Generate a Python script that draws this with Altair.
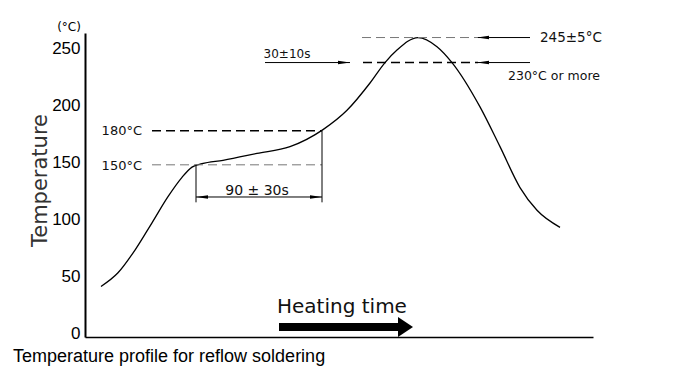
import altair as alt
import pandas as pd

# ---- data (time in arbitrary units, temperature in °C) ----
time = [16, 33, 50, 67, 83, 97, 107, 117, 138, 172, 205, 238, 262, 285, 300, 312, 333, 352, 367, 395, 415, 435, 452, 475]
temp = [41, 53, 73, 97, 120, 137, 146, 149, 152, 158, 164, 179, 196, 220, 238, 249, 260, 252, 238, 199, 164, 128, 108, 93]
y_ticks = [0, 50, 100, 150, 200, 250]

# reference lines: gray thin dashed, black dashed, solid
gray_dash = pd.DataFrame({"x": [67, 277], "x2": [237, 393], "y": [148, 260]})
black_dash = pd.DataFrame({"x": [67, 278], "x2": [237, 393], "y": [178, 238]})
solid_h = pd.DataFrame({"x": [111, 393, 393, 180], "x2": [237, 445, 445, 265], "y": [119.7, 260, 238, 238]})
solid_v = pd.DataFrame({"x": [111, 237], "y": [148, 178], "y2": [115, 115]})
heads_left = pd.DataFrame({"x": [117, 398, 398], "y": [119.7, 260, 238]})
heads_right = pd.DataFrame({"x": [231, 259], "y": [119.7, 238]})

labels = pd.DataFrame({
    "x": [57, 57, 172, 202, 455, 423],
    "y": [178, 147, 125, 245.6, 260, 226],
    "text": ["180°C", "150°C", "90 ± 30s", "30±10s", "245±5°C", "230°C or more"],
    "align": ["right", "right", "center", "center", "left", "left"],
    "size": [13, 13, 14, 12, 13.5, 12.5],
})

TECH = "DejaVu Sans, sans-serif"
ARIAL = "Liberation Sans, Arial, sans-serif"

xs = alt.Scale(domain=[0, 508])
ys = alt.Scale(domain=[-3.5, 264])

curve_df = pd.DataFrame({"t": time, "T": temp})
curve = alt.Chart(curve_df).mark_line(color="black", strokeWidth=1.3, interpolate="monotone").encode(
    x=alt.X("t:Q", scale=xs, axis=alt.Axis(labels=False, ticks=False, grid=False, title=None,
                                           domainColor="black", domainWidth=1.5)),
    y=alt.Y("T:Q", scale=ys, axis=alt.Axis(values=y_ticks, ticks=False, grid=False,
                                           labelFont=ARIAL, labelFontSize=17, labelColor="black",
                                           labelPadding=5, domainColor="black", domainWidth=2,
                                           title="Temperature", titleFont=TECH, titleFontSize=21,
                                           titleFontWeight="normal", titleColor="#333",
                                           titleX=-45, titleY=147, titleAngle=-90,
                                           titleAlign="center", titleBaseline="middle")),
)

gd = alt.Chart(gray_dash).mark_rule(color="#777", strokeWidth=1, strokeDash=[9, 5]).encode(
    x=alt.X("x:Q", scale=xs), x2="x2:Q", y=alt.Y("y:Q", scale=ys))
bd = alt.Chart(black_dash).mark_rule(color="black", strokeWidth=1.4, strokeDash=[9, 5]).encode(
    x=alt.X("x:Q", scale=xs), x2="x2:Q", y=alt.Y("y:Q", scale=ys))
sh = alt.Chart(solid_h).mark_rule(color="black", strokeWidth=1).encode(
    x=alt.X("x:Q", scale=xs), x2="x2:Q", y=alt.Y("y:Q", scale=ys))
sv = alt.Chart(solid_v).mark_rule(color="black", strokeWidth=1).encode(
    x=alt.X("x:Q", scale=xs), y=alt.Y("y:Q", scale=ys), y2="y2:Q")

hl = alt.Chart(heads_left).mark_point(shape="M-1,0L1,-0.3L1,0.3Z", filled=True, color="black",
                                      size=144, opacity=1).encode(
    x=alt.X("x:Q", scale=xs), y=alt.Y("y:Q", scale=ys))
hr = alt.Chart(heads_right).mark_point(shape="M1,0L-1,-0.3L-1,0.3Z", filled=True, color="black",
                                       size=144, opacity=1).encode(
    x=alt.X("x:Q", scale=xs), y=alt.Y("y:Q", scale=ys))

txt_layers = []
for al in ["left", "right", "center"]:
    sub = labels[labels["align"] == al]
    txt_layers.append(alt.Chart(sub).mark_text(font=TECH, color="#111", align=al,
                                               baseline="middle").encode(
        x=alt.X("x:Q", scale=xs), y=alt.Y("y:Q", scale=ys), text="text:N",
        size=alt.Size("size:Q", scale=None, legend=None)))

# heating time arrow
ht_body = alt.Chart(pd.DataFrame({"x": [194], "x2": [314], "y": [5.3]})).mark_rule(
    color="black", strokeWidth=8).encode(x=alt.X("x:Q", scale=xs), x2="x2:Q", y=alt.Y("y:Q", scale=ys))
ht_head = alt.Chart(pd.DataFrame({"x": [320.5], "y": [5.3]})).mark_point(
    shape="M-0.75,-1L0.75,0L-0.75,1Z", filled=True, color="black", size=400, opacity=1).encode(
    x=alt.X("x:Q", scale=xs), y=alt.Y("y:Q", scale=ys))
ht_text = alt.Chart(pd.DataFrame({"x": [192], "y": [23], "text": ["Heating time"]})).mark_text(
    font=TECH, fontSize=20, color="#111", align="left", baseline="middle").encode(
    x=alt.X("x:Q", scale=xs), y=alt.Y("y:Q", scale=ys), text="text:N")

unit = alt.Chart(pd.DataFrame({"x": [-16], "y": [269], "text": ["(°C)"]})).mark_text(
    font=TECH, fontSize=12, color="black", align="center", baseline="middle").encode(
    x=alt.X("x:Q", scale=xs), y=alt.Y("y:Q", scale=ys), text="text:N")

caption = alt.Chart(pd.DataFrame({"x": [-72], "y": [-21], "text": ["Temperature profile for reflow soldering"]})).mark_text(
    font=ARIAL, fontSize=18, color="black", align="left", baseline="middle").encode(
    x=alt.X("x:Q", scale=xs), y=alt.Y("y:Q", scale=ys), text="text:N")

chart = alt.layer(curve, gd, bd, sh, sv, hl, hr, *txt_layers, ht_body, ht_head, ht_text, unit, caption).properties(
    width=508, height=304,
    autosize=alt.AutoSizeParams(type="none"),
    padding={"left": 85, "top": 33, "right": 93, "bottom": 41},
    background="white",
).configure_view(stroke=None)

chart.save("out.html", embed_options={"renderer": "svg", "actions": False})
